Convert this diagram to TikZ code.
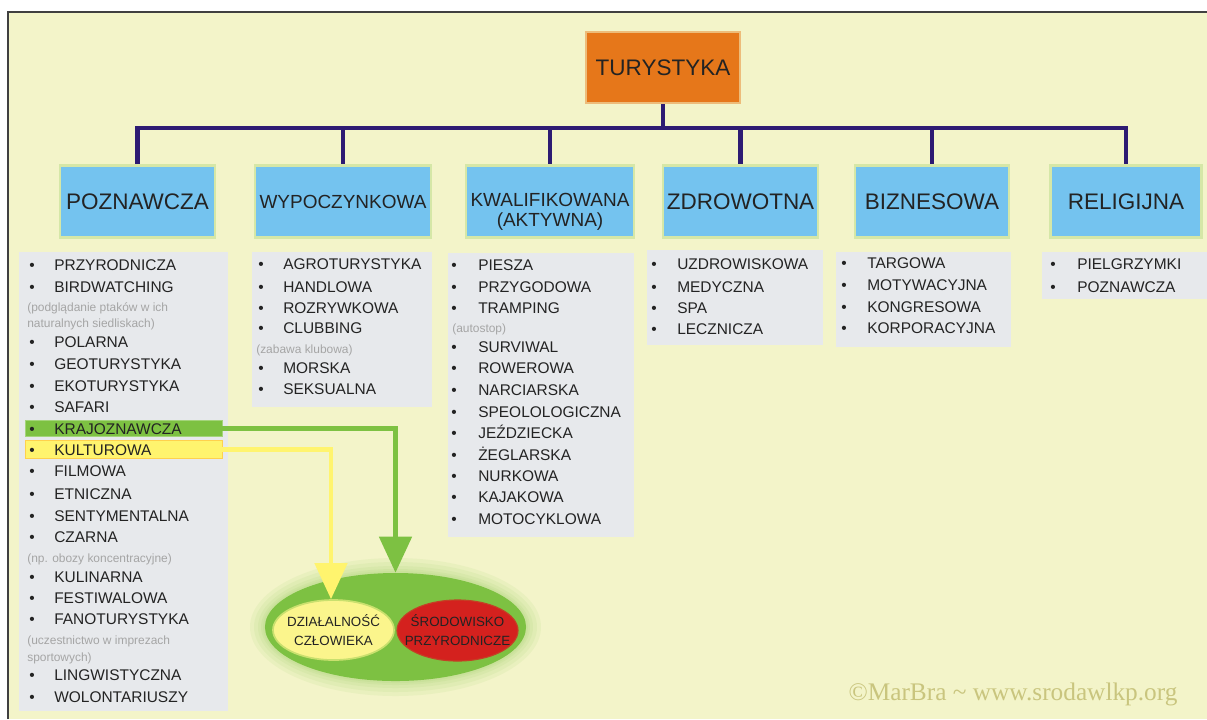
\documentclass[tikz,border=0pt]{standalone}
\usepackage{fontspec}
\setmainfont{Liberation Sans}
\newfontfamily\creditfont{Liberation Serif}
\usetikzlibrary{arrows.meta,shapes.geometric}

\definecolor{panel}{RGB}{243,244,201}
\definecolor{orangebox}{RGB}{230,119,26}
\definecolor{bluebox}{RGB}{116,195,239}
\definecolor{greybox}{RGB}{231,233,236}
\definecolor{navy}{RGB}{45,27,115}
\definecolor{leafgreen}{RGB}{125,193,66}
\definecolor{lemon}{RGB}{255,244,110}
\definecolor{paleyellow}{RGB}{251,245,140}
\definecolor{redfill}{RGB}{212,33,30}
\definecolor{notegrey}{RGB}{165,165,165}
\definecolor{inkgrey}{RGB}{35,35,35}
\definecolor{wmark}{RGB}{201,197,126}

\tikzset{
  panelframe/.style={draw=black!75, line width=1pt},
  root/.style={fill=orangebox, draw=orangebox!45!panel, line width=2pt,
    minimum width=3.85cm, minimum height=1.775cm, inner sep=0pt,
    text=inkgrey, font=\fontsize{16}{19}\selectfont},
  category/.style={fill=bluebox, draw=leafgreen!25!panel, line width=2pt,
    minimum height=1.8cm, inner sep=0pt, align=center, text=inkgrey},
  bigcat/.style={category, font=\fontsize{16}{19}\selectfont},
  smallcat/.style={category, font=\fontsize{13.5}{14}\selectfont},
  listbox/.style={fill=greybox, inner sep=0pt},
  item/.style={anchor=base west, yshift=-3.9pt, inner sep=0pt, text=inkgrey,
    font=\fontsize{11}{13}\selectfont},
  bullet/.style={item, anchor=base},
  note/.style={anchor=base west, yshift=-3pt, inner sep=0pt, text=notegrey,
    font=\fontsize{8.5}{10}\selectfont},
  branch/.style={draw=navy, line width=3.2pt},
  highlight/.style={minimum width=4.925cm, inner sep=0pt},
  pointer/.style={line width=3.4pt, -{Triangle[length=0.9cm, width=0.8cm]}},
  blob/.style={ellipse, inner sep=0pt},
  blobtext/.style={align=center, text=inkgrey, inner sep=0pt,
    font=\fontsize{9.5}{13.5}\selectfont},
}

\begin{document}
\begin{tikzpicture}[x=0.025cm, y=-0.025cm]
  \useasboundingbox (0,0) rectangle (1207,719);
  \clip (0,0) rectangle (1207,719);
  \fill[white] (0,0) rectangle (1207,719);
  \fill[panel] (8,12) rectangle (1207,719);
  \draw[panelframe] (8,719) -- (8,12) -- (1207,12);

  % tree
  \node[root] (root) at (663,67.5) {TURYSTYKA};
  \node[bigcat, minimum width=3.875cm] (poz) at (137.5,201.5) {POZNAWCZA};
  \node[smallcat, minimum width=4.4cm] (wyp) at (343,201.5) {WYPOCZYNKOWA};
  \node[smallcat, minimum width=4.2cm,
    label={[smallcat, fill=none, draw=none, minimum height=0pt, yshift=-0.26cm]center:KWALIFIKOWANA\\(AKTYWNA)}]
    (kwal) at (550,201.5) {};
  \node[bigcat, minimum width=3.875cm] (zdr) at (740.5,201.5) {ZDROWOTNA};
  \node[bigcat, minimum width=3.85cm] (biz) at (932,201.5) {BIZNESOWA};
  \node[bigcat, minimum width=3.775cm] (rel) at (1126,201.5) {RELIGIJNA};

  \coordinate (hub) at (663,128);
  \draw[branch] (root.south) -- (hub);
  \foreach \c in {poz,wyp,kwal,zdr,biz,rel}
    \draw[branch] (hub) -| (\c.north);

  % lists
  \node[listbox, minimum width=5.225cm, minimum height=11.475cm] (poznlist) at (123.5,481.5) {};
  \node[listbox, minimum width=4.5cm, minimum height=3.875cm] (wyplist) at (342,329.5) {};
  \node[listbox, minimum width=4.65cm, minimum height=7.1cm] (kwallist) at (541,395) {};
  \node[listbox, minimum width=4.4cm, minimum height=2.375cm] (zdrlist) at (735,297.5) {};
  \node[listbox, minimum width=4.375cm, minimum height=2.375cm] (bizlist) at (923.5,299.5) {};
  \node[listbox, minimum width=4.125cm, minimum height=1.175cm] (rellist) at (1124.5,275.5) {};

  \node[highlight, fill=leafgreen, draw=leafgreen!70!white, minimum height=0.4cm] (kraj) at (123.5,428.5) {};
  \node[highlight, fill=lemon, draw=lemon!70!orange, line width=0.3pt, minimum height=0.45cm] (kult) at (123.5,449.5) {};

  \foreach \y/\t in {265/PRZYRODNICZA, 287/BIRDWATCHING, 342/POLARNA, 364/GEOTURYSTYKA,
      386/EKOTURYSTYKA, 407/SAFARI, 429/KRAJOZNAWCZA, 450/KULTUROWA, 471/FILMOWA,
      494/ETNICZNA, 516/SENTYMENTALNA, 537/CZARNA, 577/KULINARNA, 598/FESTIWALOWA,
      619/FANOTURYSTYKA, 675/LINGWISTYCZNA, 697/WOLONTARIUSZY} {
    \node[bullet] (pb\y) at (32,\y) {\textbullet};
    \node[item] (p\y) at (54,\y) {\t};
  }
  \node[note] (pn1) at (27,307) {(podglądanie ptaków w ich};
  \node[note] (pn2) at (27,323) {naturalnych siedliskach)};
  \node[note] (pn3) at (27,558) {(np. obozy koncentracyjne)};
  \node[note] (pn4) at (27,640) {(uczestnictwo w imprezach};
  \node[note] (pn5) at (27,657) {sportowych)};

  \foreach \y/\t in {264/AGROTURYSTYKA, 287/HANDLOWA, 308/ROZRYWKOWA, 328/CLUBBING,
      368/MORSKA, 389/SEKSUALNA} {
    \node[bullet] (wb\y) at (261,\y) {\textbullet};
    \node[item] (w\y) at (283,\y) {\t};
  }
  \node[note] (wn1) at (256,349) {(zabawa klubowa)};

  \foreach \y/\t in {265/PIESZA, 287/PRZYGODOWA, 308/TRAMPING, 347/SURVIWAL, 368/ROWEROWA,
      390/NARCIARSKA, 412/SPEOLOLOGICZNA, 433/JEŹDZIECKA, 455/ŻEGLARSKA, 476/NURKOWA,
      497/KAJAKOWA, 519/MOTOCYKLOWA} {
    \node[bullet] (kb\y) at (454,\y) {\textbullet};
    \node[item] (k\y) at (478,\y) {\t};
  }
  \node[note] (kn1) at (452,328) {(autostop)};

  \foreach \y/\t in {264/UZDROWISKOWA, 287/MEDYCZNA, 308/SPA, 329/LECZNICZA} {
    \node[bullet] (zb\y) at (654,\y) {\textbullet};
    \node[item] (z\y) at (677,\y) {\t};
  }

  \foreach \y/\t in {263/TARGOWA, 285/MOTYWACYJNA, 307/KONGRESOWA, 328/KORPORACYJNA} {
    \node[bullet] (bb\y) at (844,\y) {\textbullet};
    \node[item] (b\y) at (867,\y) {\t};
  }

  \foreach \y/\t in {264/PIELGRZYMKI, 287/POZNAWCZA} {
    \node[bullet] (rb\y) at (1053,\y) {\textbullet};
    \node[item] (r\y) at (1077,\y) {\t};
  }

  % environment
  \foreach \g in {15,11,7,4,2}
    \fill[leafgreen, opacity=0.08] (395.5,627) ellipse ({130.5+\g} and {54+\g});
  \node[blob, fill=leafgreen, minimum width=6.525cm, minimum height=2.7cm] (eco) at (395.5,627) {};
  \node[blob, fill=paleyellow, draw=paleyellow!60!leafgreen, line width=1.2pt,
    minimum width=3.025cm, minimum height=1.5cm] (human) at (333.5,630) {};
  \node[blob, fill=redfill, draw=redfill!80!leafgreen, line width=0.8pt,
    minimum width=3.025cm, minimum height=1.525cm] (nature) at (457.5,630.5) {};
  \node[blobtext] (humantext) at (human) {DZIAŁALNOŚĆ\\CZŁOWIEKA};
  \node[blobtext] (naturetext) at (nature) {ŚRODOWISKO\\PRZYRODNICZE};

  \draw[pointer, leafgreen] (kraj.east) -| (eco.north);
  \draw[pointer, lemon] (kult.east) -| ([xshift=-2.5*0.025cm]human.north);

  \node[text=wmark, font=\creditfont\fontsize{18}{20}\selectfont] (credit) at (1013,694) {©MarBra \textasciitilde{} www.srodawlkp.org};
\end{tikzpicture}
\end{document}
